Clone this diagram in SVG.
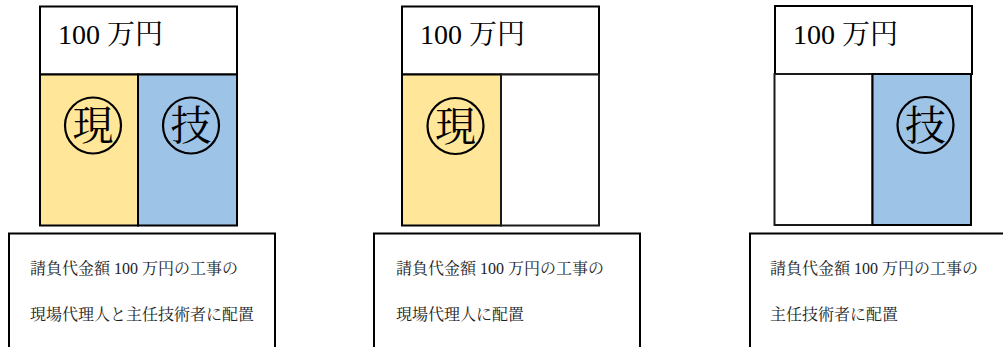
<svg xmlns="http://www.w3.org/2000/svg" width="1003" height="347" viewBox="0 0 1003 347">
<style>
.box{fill:#fff;stroke:#000;stroke-width:2}
.cellw{fill:#fff;stroke:#1a1a1a;stroke-width:2}
.yel{fill:#FFE699;stroke:#000;stroke-width:2}
.blu{fill:#9DC3E6;stroke:#000;stroke-width:2}
.ring{fill:none;stroke:#000;stroke-width:2.2}
.amt{font-family:"Liberation Serif","Noto Serif CJK JP","Noto Sans CJK JP",serif;font-size:28px;fill:#000}
.mark{font-family:"Noto Serif CJK JP","Noto Sans CJK JP",serif;font-size:41px;fill:#000;text-anchor:middle}
.desc{font-family:"Liberation Serif","Noto Serif CJK JP","Noto Sans CJK JP",serif;font-size:16px;fill:#222}
</style>
<g id="case-both">
<rect class="box" x="40" y="6.5" width="197" height="68"/>
<text class="amt" x="58" y="44">100 万円</text>
<rect class="yel" x="40" y="74.5" width="98" height="151"/>
<rect class="blu" x="138" y="74.5" width="99" height="151"/>
<circle class="ring" cx="93" cy="125.5" r="28"/>
<text class="mark" x="93" y="140">現</text>
<circle class="ring" cx="191" cy="125.5" r="28"/>
<text class="mark" x="191" y="140">技</text>
<rect class="box" x="9" y="233.5" width="266" height="130"/>
<text class="desc" x="30" y="274">請負代金額 100 万円の工事の</text>
<text class="desc" x="30" y="320">現場代理人と主任技術者に配置</text>
</g>
<g id="case-genba">
<rect class="box" x="402" y="6.5" width="197" height="68"/>
<text class="amt" x="420" y="44">100 万円</text>
<rect class="yel" x="402" y="74.5" width="99" height="151"/>
<rect class="cellw" x="501" y="74.5" width="98" height="151"/>
<circle class="ring" cx="455.5" cy="126" r="28"/>
<text class="mark" x="455.5" y="140.5">現</text>
<rect class="box" x="374" y="233.5" width="266" height="130"/>
<text class="desc" x="396" y="274">請負代金額 100 万円の工事の</text>
<text class="desc" x="396" y="320">現場代理人に配置</text>
</g>
<g id="case-gijutsu">
<rect class="box" x="775" y="6" width="197" height="68"/>
<text class="amt" x="793" y="44">100 万円</text>
<rect class="cellw" x="774.5" y="74" width="98" height="151"/>
<rect class="blu" x="872.5" y="74" width="98.5" height="151"/>
<circle class="ring" cx="925.5" cy="125" r="28"/>
<text class="mark" x="925.5" y="139.5">技</text>
<rect class="box" x="750" y="233.5" width="270" height="130"/>
<text class="desc" x="770" y="274">請負代金額 100 万円の工事の</text>
<text class="desc" x="770" y="320">主任技術者に配置</text>
</g>
<g id="connectors"/>
</svg>
